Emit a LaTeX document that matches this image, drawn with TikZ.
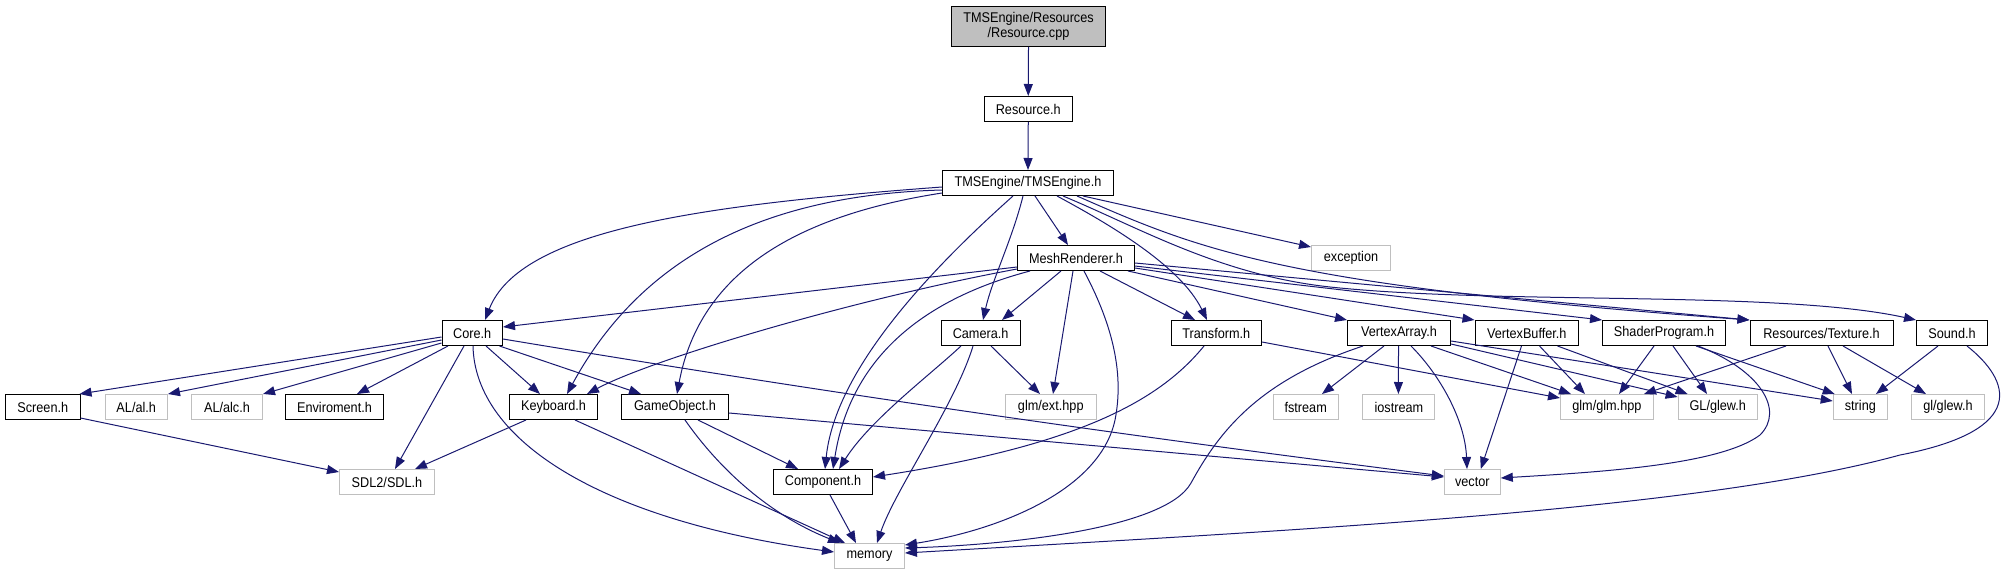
\documentclass[tikz,border=0pt]{standalone}
\usepackage{fontspec}
\setmainfont[FakeStretch=0.9]{Liberation Sans}
\usetikzlibrary{arrows.meta,calc}
\definecolor{edgec}{HTML}{191970}
\definecolor{greyb}{HTML}{BFBFBF}
\begin{document}
\begin{tikzpicture}[x=1pt,y=-1pt,
  box/.style={draw=black, line width=1pt, inner sep=0pt, anchor=north west,
    minimum height=25pt, font=\fontsize{14.1}{15.5}\selectfont, text=black},
  ext/.style={box, draw=greyb},
  dep/.style={draw=edgec, line width=1pt, -{Triangle[length=12pt,width=9pt]}}]
\useasboundingbox (0,0) rectangle (2009,575);
% row 0-3
\node[box, fill=greyb, minimum width=154pt, minimum height=40pt, align=center] (rcpp) at (951,6) {TMSEngine/Resources\\/Resource.cpp};
\node[box, minimum width=88.5pt] (resh) at (983.5,96) {Resource.h};
\node[box, minimum width=171pt] (tms) at (942,170) {TMSEngine/TMSEngine.h};
\node[box, minimum width=117pt] (mesh) at (1017,245) {MeshRenderer.h};
\node[ext, minimum width=79pt] (exc) at (1311,245) {exception};
% row 4
\node[box, minimum width=60.5pt] (core) at (441.5,320) {Core.h};
\node[box, minimum width=79pt] (camera) at (940.6,320) {Camera.h};
\node[box, minimum width=90.5pt] (transform) at (1170.5,320) {Transform.h};
\node[box, minimum width=103pt] (varray) at (1347,320) {VertexArray.h};
\node[box, minimum width=103.5pt] (vbuf) at (1474.5,320) {VertexBuffer.h};
\node[box, minimum width=123pt] (shader) at (1602,320) {ShaderProgram.h};
\node[box, minimum width=143pt] (texture) at (1749.5,320) {Resources/Texture.h};
\node[box, minimum width=71pt] (sound) at (1916,320) {Sound.h};
% row 5
\node[box, minimum width=74.5pt] (screen) at (5,394) {Screen.h};
\node[ext, minimum width=62.5pt] (al) at (104.5,394) {AL/al.h};
\node[ext, minimum width=71pt] (alc) at (191,394) {AL/alc.h};
\node[box, minimum width=98pt] (env) at (285,394) {Enviroment.h};
\node[box, minimum width=88pt] (keyboard) at (509,394) {Keyboard.h};
\node[box, minimum width=107pt] (gameobj) at (621,394) {GameObject.h};
\node[ext, minimum width=90.5pt] (ext) at (1005,394) {glm/ext.hpp};
\node[ext, minimum width=65pt] (fstream) at (1272.7,394) {fstream};
\node[ext, minimum width=72pt] (iostream) at (1362.4,394) {iostream};
\node[ext, minimum width=92.7pt] (glm) at (1560,394) {glm/glm.hpp};
\node[ext, minimum width=79.4pt] (glew) at (1677.6,394) {GL/glew.h};
\node[ext, minimum width=54.3pt] (string) at (1832.7,394) {string};
\node[ext, minimum width=73pt] (glewtwo) at (1911,394) {gl/glew.h};
% row 6-7
\node[ext, minimum width=95pt] (sdl) at (339,469) {SDL2/SDL.h};
\node[box, minimum width=99pt] (component) at (773,469) {Component.h};
\node[ext, minimum width=56pt] (vector) at (1443.8,469) {vector};
\node[ext, minimum width=70pt] (memory) at (834,543) {memory};

% edges
\draw[dep] (rcpp.south) -- (resh.north);
\draw[dep] (resh.south) -- (tms.north);
% TMSEngine.h
\draw[dep] ($(tms.south west)+(93,0)$) -- ($(mesh.north west)+(51,0)$);
\draw[dep] ($(tms.south west)+(81,0)$) .. controls (1012,240) and (992,280) .. ($(camera.north west)+(42.4,0)$);
\draw[dep] ($(tms.south west)+(71,0)$) .. controls (930,270) and (835,370) .. ($(component.north west)+(52,0)$);
\draw[dep] ($(tms.north west)+(0,17)$) .. controls (700,205) and (520,230) .. ($(core.north west)+(43.5,0)$);
\draw[dep] ($(tms.north west)+(0,20)$) .. controls (760,195) and (640,260) .. ($(keyboard.north west)+(58,0)$);
\draw[dep] ($(tms.north west)+(0,23)$) .. controls (800,215) and (700,270) .. ($(gameobj.north west)+(56,0)$);
\draw[dep] ($(tms.south west)+(115,0)$) .. controls (1107,223) and (1180,265) .. ($(transform.north west)+(36.5,0)$);
\draw[dep] ($(tms.south west)+(141,0)$) -- ($(exc.north west)+(0,2)$);
\draw[dep] ($(tms.south west)+(135,0)$) .. controls (1200,250) and (1280,285) .. (texture.north west);
\draw[dep] ($(tms.south west)+(121,0)$) .. controls (1140,228) and (1220,275) .. (1330,287) .. controls (1500,305) and (1780,290) .. (sound.north west);
% MeshRenderer.h
\draw[dep] ($(mesh.north west)+(0,22)$) -- ($(core.north east)+(0,7)$);
\draw[dep] ($(mesh.north west)+(0,24)$) .. controls (850,300) and (650,360) .. ($(keyboard.north west)+(78,0)$);
\draw[dep] ($(mesh.south west)+(13,0)$) .. controls (920,300) and (850,360) .. ($(component.north west)+(60,0)$);
\draw[dep] ($(mesh.south west)+(44,0)$) -- ($(camera.north west)+(61.4,0)$);
\draw[dep] ($(mesh.south west)+(56,0)$) -- ($(ext.north west)+(48,0)$);
\draw[dep] ($(mesh.south west)+(67,0)$) .. controls (1110,320) and (1125,370) .. (1115,420) .. controls (1100,490) and (1000,530) .. ($(memory.north east)+(0,2)$);
\draw[dep] ($(mesh.south west)+(83,0)$) -- ($(transform.north west)+(24.5,0)$);
\draw[dep] ($(mesh.south west)+(111,0)$) -- (varray.north west);
\draw[dep] ($(mesh.north east)+(0,23)$) -- (vbuf.north west);
\draw[dep] ($(mesh.north east)+(0,21)$) -- (shader.north west);
\draw[dep] ($(mesh.north east)+(0,18)$) -- (texture.north west);
% Core.h
\draw[dep] ($(core.north west)+(0,17)$) -- ($(screen.north east)+(-1,0)$);
\draw[dep] ($(core.north west)+(0,20)$) -- (al.north east);
\draw[dep] ($(core.north west)+(0,23)$) -- (alc.north east);
\draw[dep] ($(core.south west)+(6.5,0)$) -- ($(env.north west)+(72,0)$);
\draw[dep] ($(core.south west)+(22.5,0)$) -- ($(sdl.north west)+(56,0)$);
\draw[dep] ($(core.south west)+(31.5,0)$) .. controls (475,440) and (600,520) .. ($(memory.north west)+(0,9)$);
\draw[dep] ($(core.south west)+(44.5,0)$) -- ($(keyboard.north west)+(31,0)$);
\draw[dep] ($(core.south west)+(58,0)$) -- ($(gameobj.north west)+(20,0)$);
\draw[dep] ($(core.north east)+(0,19)$) .. controls (900,405) and (1200,445) .. ($(vector.north west)+(0,7)$);
% Screen, Keyboard, GameObject, Component
\draw[dep] ($(screen.north east)+(0,24)$) -- ($(sdl.north west)+(0,3)$);
\draw[dep] ($(keyboard.south west)+(17,0)$) -- ($(sdl.north west)+(76,0)$);
\draw[dep] ($(keyboard.south west)+(66,0)$) -- ($(memory.north west)+(11,0)$);
\draw[dep] ($(gameobj.south west)+(77,0)$) -- ($(component.north west)+(25,0)$);
\draw[dep] ($(gameobj.south west)+(64,0)$) .. controls (720,470) and (770,515) .. ($(memory.north west)+(6,0)$);
\draw[dep] ($(gameobj.north east)+(0,19)$) -- ($(vector.north west)+(0,8)$);
\draw[dep] ($(component.south west)+(57,0)$) -- ($(memory.north west)+(22,0)$);
% Camera.h
\draw[dep] ($(camera.south west)+(20.4,0)$) .. controls (930,375) and (870,420) .. ($(component.north west)+(66,0)$);
\draw[dep] ($(camera.south west)+(32.4,0)$) .. controls (955,405) and (895,490) .. ($(memory.north west)+(43,0)$);
\draw[dep] ($(camera.south west)+(50.4,0)$) -- ($(ext.north west)+(35,0)$);
% Transform.h
\draw[dep] ($(transform.south west)+(33.5,0)$) .. controls (1160,400) and (1080,445) .. ($(component.north east)+(0,8)$);
\draw[dep] ($(transform.north east)+(0,22)$) -- ($(glm.north west)+(0,4)$);
% VertexArray.h
\draw[dep] ($(varray.south west)+(16,0)$) .. controls (1260,380) and (1220,430) .. (1191,483) .. controls (1165,530) and (1000,545) .. ($(memory.north east)+(0,5)$);
\draw[dep] ($(varray.south west)+(37,0)$) -- ($(fstream.north west)+(49.3,0)$);
\draw[dep] ($(varray.south west)+(51.5,0)$) -- ($(iostream.north west)+(36,0)$);
\draw[dep] ($(varray.south west)+(64,0)$) .. controls (1440,375) and (1465,420) .. ($(vector.north west)+(23.2,0)$);
\draw[dep] ($(varray.south west)+(84,0)$) -- ($(glm.north west)+(11,0)$);
\draw[dep] ($(varray.south east)+(0,-2)$) -- ($(glew.north west)+(0,3)$);
\draw[dep] ($(varray.north east)+(0,21)$) -- ($(string.north west)+(0,7)$);
% VertexBuffer.h
\draw[dep] ($(vbuf.south west)+(47,0)$) -- ($(vector.north west)+(37,0)$);
\draw[dep] ($(vbuf.south west)+(65,0)$) -- ($(glm.north west)+(25,0)$);
\draw[dep] ($(vbuf.south west)+(83,0)$) -- ($(glew.north west)+(10,0)$);
% ShaderProgram.h
\draw[dep] ($(shader.south west)+(52,0)$) -- ($(glm.north west)+(59,0)$);
\draw[dep] ($(shader.south west)+(71,0)$) -- ($(glew.north west)+(29.4,0)$);
\draw[dep] ($(shader.south west)+(94,0)$) -- ($(string.north west)+(2,0)$);
\draw[dep] ($(shader.south west)+(96,0)$) .. controls (1760,370) and (1785,410) .. (1760,435) .. controls (1720,465) and (1600,472) .. ($(vector.north east)+(0,9)$);
% Resources/Texture.h
\draw[dep] ($(texture.south west)+(36.5,0)$) -- ($(glm.north west)+(84,0)$);
\draw[dep] ($(texture.south west)+(78.5,0)$) -- ($(string.north west)+(19.3,0)$);
\draw[dep] ($(texture.south west)+(93.5,0)$) -- ($(glewtwo.north west)+(15,0)$);
% Sound.h
\draw[dep] ($(sound.south west)+(22,0)$) -- ($(string.north west)+(43.3,0)$);
\draw[dep] ($(sound.south west)+(51,0)$) .. controls (2010,380) and (2030,430) .. (1900,455) .. controls (1700,510) and (1300,530) .. ($(memory.north east)+(0,10)$);
\end{tikzpicture}
\end{document}
